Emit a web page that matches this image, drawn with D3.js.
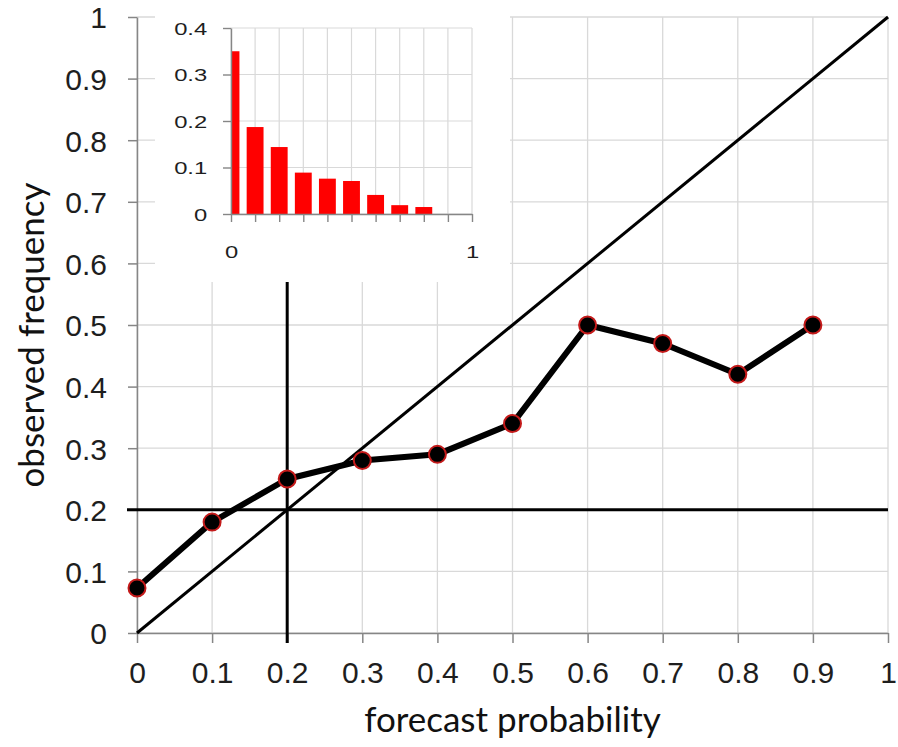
<!DOCTYPE html>
<html>
<head>
<meta charset="utf-8">
<script src="https://cdn.jsdelivr.net/npm/d3@7"></script>
<style>
  body { margin: 0; background: #fff; }
  svg { display: block; font-family: Lato, "Open Sans", sans-serif; }
</style>
</head>
<body>
<div id="chart"></div>
<script>
// reliability diagram data
const forecastProb = [0, 0.1, 0.2, 0.3, 0.4, 0.5, 0.6, 0.7, 0.8, 0.9];
const observedFreq = [0.073, 0.18, 0.25, 0.28, 0.29, 0.34, 0.50, 0.47, 0.42, 0.50];

// inset histogram (forecast frequency)
const histBins = [0, 0.1, 0.2, 0.3, 0.4, 0.5, 0.6, 0.7, 0.8];
const histValues = [0.35, 0.187, 0.144, 0.089, 0.076, 0.071, 0.041, 0.019, 0.015];

// ticks
const mainTicks = [0, 0.1, 0.2, 0.3, 0.4, 0.5, 0.6, 0.7, 0.8, 0.9, 1];
const mainTickLabels = ["0", "0.1", "0.2", "0.3", "0.4", "0.5", "0.6", "0.7", "0.8", "0.9", "1"];
const insetYTicks = [0, 0.1, 0.2, 0.3, 0.4];
const insetYTickLabels = ["0", "0.1", "0.2", "0.3", "0.4"];
const insetXTicks = [0, 0.1, 0.2, 0.3, 0.4, 0.5, 0.6, 0.7, 0.8, 0.9, 1];
const insetXTickLabels = { 0: "0", 1: "1" };

// reference lines
const climatology = 0.2;

const W = 898, H = 747;
const gridColor = "#d9d9d9", axisColor = "#868686";

const svg = d3.select("#chart").append("svg")
  .attr("width", W).attr("height", H);

// main scales
const x = d3.scaleLinear().domain([0, 1]).range([137, 888]);
const y = d3.scaleLinear().domain([0, 1]).range([633, 17]);

// grid
const grid = svg.append("g");
grid.selectAll(".gx").data(mainTicks).join("line")
  .attr("x1", d => x(d)).attr("x2", d => x(d))
  .attr("y1", y(0)).attr("y2", y(1))
  .attr("stroke", gridColor).attr("stroke-width", 1.3);
grid.selectAll(".gy").data(mainTicks).join("line")
  .attr("x1", x(0)).attr("x2", x(1))
  .attr("y1", d => y(d)).attr("y2", d => y(d))
  .attr("stroke", gridColor).attr("stroke-width", 1.3);

// axes
const fmtMain = d => mainTickLabels[mainTicks.indexOf(d)];
const xAxis = svg.append("g")
  .attr("transform", `translate(0,${y(0)})`)
  .call(d3.axisBottom(x).tickValues(mainTicks).tickSize(10).tickSizeOuter(0).tickFormat(fmtMain));
const yAxis = svg.append("g")
  .attr("transform", `translate(${x(0)},0)`)
  .call(d3.axisLeft(y).tickValues(mainTicks).tickSize(9).tickSizeOuter(0).tickFormat(fmtMain));
[xAxis, yAxis].forEach(a => {
  a.select(".domain").attr("stroke", axisColor).attr("stroke-width", 1.5);
  a.selectAll(".tick line").attr("stroke", axisColor).attr("stroke-width", 1.5);
  a.selectAll(".tick text").attr("fill", "#1e1e1e").style("font-size", "30px");
});
xAxis.selectAll(".tick text").attr("y", 0).attr("dy", null).attr("transform", "translate(0,50)");
yAxis.selectAll(".tick text").attr("x", -30).attr("dy", "0.36em");

// perfect reliability diagonal
svg.append("line")
  .attr("x1", x(0)).attr("y1", y(0)).attr("x2", x(1)).attr("y2", y(1))
  .attr("stroke", "#000").attr("stroke-width", 3);

// climatology lines
svg.append("line")
  .attr("x1", x(0) - 10).attr("x2", x(1))
  .attr("y1", y(climatology)).attr("y2", y(climatology))
  .attr("stroke", "#000").attr("stroke-width", 3);
svg.append("line")
  .attr("x1", x(climatology)).attr("x2", x(climatology))
  .attr("y1", y(1)).attr("y2", y(0) + 10)
  .attr("stroke", "#000").attr("stroke-width", 3);

// axis titles
svg.append("text")
  .attr("x", (x(0) + x(1)) / 2).attr("y", 732)
  .attr("text-anchor", "middle")
  .style("font-size", "35px").attr("fill", "#111")
  .text("forecast probability");
svg.append("text")
  .attr("transform", `translate(44,${(y(0) + y(1)) / 2 + 10}) rotate(-90)`)
  .attr("text-anchor", "middle")
  .style("font-size", "35px").attr("fill", "#111")
  .text("observed frequency");

// inset
const inset = svg.append("g");
inset.append("rect")
  .attr("x", 155).attr("y", 0).attr("width", 355).attr("height", 282)
  .attr("fill", "#fff");

const ix = d3.scaleLinear().domain([0, 1]).range([231, 472]);
const iy = d3.scaleLinear().domain([0, 0.4]).range([214, 28]);

inset.selectAll(".igx").data(insetXTicks).join("line")
  .attr("x1", d => ix(d)).attr("x2", d => ix(d))
  .attr("y1", iy(0)).attr("y2", iy(0.4))
  .attr("stroke", gridColor).attr("stroke-width", 1.2);
inset.selectAll(".igy").data(insetYTicks).join("line")
  .attr("x1", ix(0)).attr("x2", ix(1))
  .attr("y1", d => iy(d)).attr("y2", d => iy(d))
  .attr("stroke", gridColor).attr("stroke-width", 1.2);

inset.append("clipPath").attr("id", "insetClip")
  .append("rect")
  .attr("x", ix(0)).attr("y", iy(0.4))
  .attr("width", ix(1) - ix(0)).attr("height", iy(0) - iy(0.4));

const barW = ix(0.07) - ix(0);
inset.append("g").attr("clip-path", "url(#insetClip)")
  .selectAll("rect").data(histBins).join("rect")
  .attr("x", d => ix(d) - barW / 2)
  .attr("y", (d, i) => iy(histValues[i]))
  .attr("width", barW)
  .attr("height", (d, i) => iy(0) - iy(histValues[i]))
  .attr("fill", "#ff0000");

const ixAxis = inset.append("g")
  .attr("transform", `translate(0,${iy(0)})`)
  .call(d3.axisBottom(ix).tickValues(insetXTicks).tickSize(8).tickSizeOuter(0)
    .tickFormat(d => insetXTickLabels[d] || ""));
const iyAxis = inset.append("g")
  .attr("transform", `translate(${ix(0)},0)`)
  .call(d3.axisLeft(iy).tickValues(insetYTicks).tickSize(8).tickSizeOuter(0)
    .tickFormat(d => insetYTickLabels[insetYTicks.indexOf(d)]));
[ixAxis, iyAxis].forEach(a => {
  a.select(".domain").attr("stroke", axisColor).attr("stroke-width", 1.4);
  a.selectAll(".tick line").attr("stroke", axisColor).attr("stroke-width", 1.4);
  a.selectAll(".tick text").attr("fill", "#1e1e1e").style("font-size", "17px");
});
ixAxis.selectAll(".tick text").attr("y", 44).attr("dy", null).attr("transform", "scale(1.4,1)");
iyAxis.selectAll(".tick text").attr("x", -17).attr("dy", "0.36em").attr("transform", "scale(1.4,1)");

// reliability curve
const pts = forecastProb.map((p, i) => [p, observedFreq[i]]);
svg.append("path")
  .datum(pts)
  .attr("fill", "none").attr("stroke", "#000")
  .attr("stroke-width", 6).attr("stroke-linejoin", "round")
  .attr("d", d3.line().x(d => x(d[0])).y(d => y(d[1])));
svg.selectAll(".pt").data(pts).join("circle")
  .attr("cx", d => x(d[0])).attr("cy", d => y(d[1]))
  .attr("r", 8.5)
  .attr("fill", "#000")
  .attr("stroke", "#c41a1a").attr("stroke-width", 2);
</script>
</body>
</html>
